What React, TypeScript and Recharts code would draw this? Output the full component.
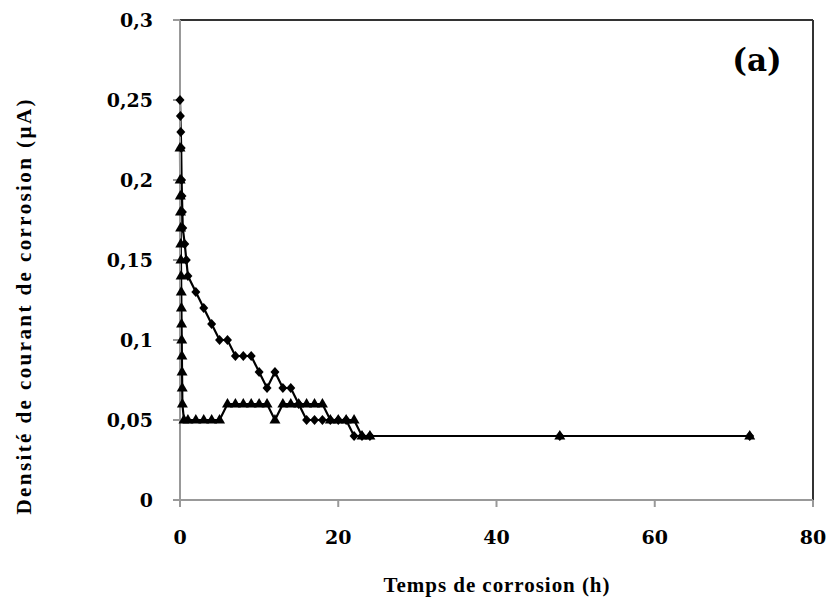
import * as React from 'react'
import { LineChart, Line, XAxis, YAxis, ReferenceLine, Label } from 'recharts'

// hours
const diamondTimes = [0, 0.05, 0.1, 0.15, 0.2, 0.25, 0.3, 0.35, 0.6, 0.8, 1, 2, 3, 4, 5, 6, 7, 8, 9, 10, 11, 12, 13, 14, 15, 16, 17, 18, 19, 20, 21, 22, 23, 24, 48, 72]
const diamondValues = [0.25, 0.24, 0.23, 0.22, 0.2, 0.19, 0.18, 0.17, 0.16, 0.15, 0.14, 0.13, 0.12, 0.11, 0.1, 0.1, 0.09, 0.09, 0.09, 0.08, 0.07, 0.08, 0.07, 0.07, 0.06, 0.05, 0.05, 0.05, 0.05, 0.05, 0.05, 0.04, 0.04, 0.04, 0.04, 0.04]

const triangleTimes = [0, 0.02, 0.04, 0.06, 0.08, 0.1, 0.12, 0.14, 0.16, 0.18, 0.2, 0.22, 0.24, 0.26, 0.28, 0.3, 0.5, 1, 2, 3, 4, 5, 6, 7, 8, 9, 10, 11, 12, 13, 14, 15, 16, 17, 18, 19, 20, 21, 22, 23, 24, 48, 72]
const triangleValues = [0.22, 0.2, 0.19, 0.18, 0.17, 0.16, 0.15, 0.14, 0.13, 0.12, 0.11, 0.1, 0.09, 0.08, 0.07, 0.06, 0.05, 0.05, 0.05, 0.05, 0.05, 0.05, 0.06, 0.06, 0.06, 0.06, 0.06, 0.06, 0.05, 0.06, 0.06, 0.06, 0.06, 0.06, 0.06, 0.05, 0.05, 0.05, 0.05, 0.04, 0.04, 0.04, 0.04]

const xTicks = [0, 20, 40, 60, 80]
const yTicks = [0, 0.05, 0.1, 0.15, 0.2, 0.25, 0.3]

const xTitle = 'Temps de corrosion (h)'
const yTitle = 'Densité de courant de corrosion (µA)'
const panelTag = '(a)'

const diamondData = diamondTimes.map((t, i) => ({ t, v: diamondValues[i] }))
const triangleData = triangleTimes.map((t, i) => ({ t, v: triangleValues[i] }))

const tickFont = { fontFamily: 'DejaVu Serif', fontWeight: 700, fontSize: 19, fill: '#000' }
const axisGray = '#999'

function Diamond(props: any) {
  const { cx, cy } = props
  if (cx == null || cy == null) return null
  return <path d={`M${cx},${cy - 5}L${cx + 4.5},${cy}L${cx},${cy + 5}L${cx - 4.5},${cy}Z`} fill='#000' />
}

function Triangle(props: any) {
  const { cx, cy } = props
  if (cx == null || cy == null) return null
  return <path d={`M${cx},${cy - 6}L${cx + 5.5},${cy + 3.5}L${cx - 5.5},${cy + 3.5}Z`} fill='#000' />
}

const fmt = (v: number) => String(v).replace('.', ',')

export default function App() {
  return (
    <div style={{ position: 'absolute', left: 0, top: 0, background: '#fff' }}>
      <LineChart width={830} height={608} margin={{ top: 20, right: 17, bottom: 0, left: 0 }}>
        <XAxis
          type='number'
          dataKey='t'
          domain={[0, 80]}
          ticks={xTicks}
          height={108}
          tickSize={7}
          tickMargin={24}
          stroke={axisGray}
          axisLine={{ stroke: axisGray, strokeWidth: 2 }}
          tickLine={{ stroke: axisGray, strokeWidth: 2 }}
          tick={tickFont}
          allowDuplicatedCategory={false}
        >
          <Label
            content={({ viewBox }: any) => (
              <text
                x={viewBox.x + viewBox.width / 2}
                y={viewBox.y + 92}
                textAnchor='middle'
                textLength={226}
                lengthAdjust='spacing'
                style={{ fontFamily: 'Liberation Serif', fontWeight: 700, fontSize: 21, fill: '#000' }}
              >
                {xTitle}
              </text>
            )}
          />
        </XAxis>
        <YAxis
          type='number'
          dataKey='v'
          domain={[0, 0.3]}
          ticks={yTicks}
          width={180}
          tickSize={7}
          tickMargin={20}
          tickFormatter={fmt}
          axisLine={{ stroke: axisGray, strokeWidth: 2 }}
          tickLine={{ stroke: axisGray, strokeWidth: 2 }}
          tick={tickFont}
        >
          <Label
            content={({ viewBox }: any) => {
              const cx = 24
              const cy = viewBox.y + viewBox.height / 2 + 47
              return (
                <text
                  x={cx}
                  y={cy}
                  transform={`rotate(-90, ${cx}, ${cy})`}
                  textAnchor='middle'
                  dominantBaseline='central'
                  textLength={415}
                  lengthAdjust='spacing'
                  style={{ fontFamily: 'Liberation Serif', fontWeight: 700, fontSize: 21, fill: '#000' }}
                >
                  {yTitle}
                </text>
              )
            }}
          />
        </YAxis>
        <ReferenceLine y={0.3} stroke='#333' strokeWidth={2} />
        <ReferenceLine x={80} stroke='#333' strokeWidth={2}>
          <Label
            content={({ viewBox }: any) => (
              <text
                x={viewBox.x - 56}
                y={viewBox.y + 40}
                textAnchor='middle'
                dominantBaseline='central'
                style={{ fontFamily: 'DejaVu Serif', fontWeight: 700, fontSize: 31, fill: '#000' }}
              >
                {panelTag}
              </text>
            )}
          />
        </ReferenceLine>
        <Line
          data={diamondData}
          dataKey='v'
          type='linear'
          stroke='#000'
          strokeWidth={2.2}
          dot={<Diamond />}
          isAnimationActive={false}
        />
        <Line
          data={triangleData}
          dataKey='v'
          type='linear'
          stroke='#000'
          strokeWidth={2.2}
          dot={<Triangle />}
          isAnimationActive={false}
        />
      </LineChart>
    </div>
  )
}
